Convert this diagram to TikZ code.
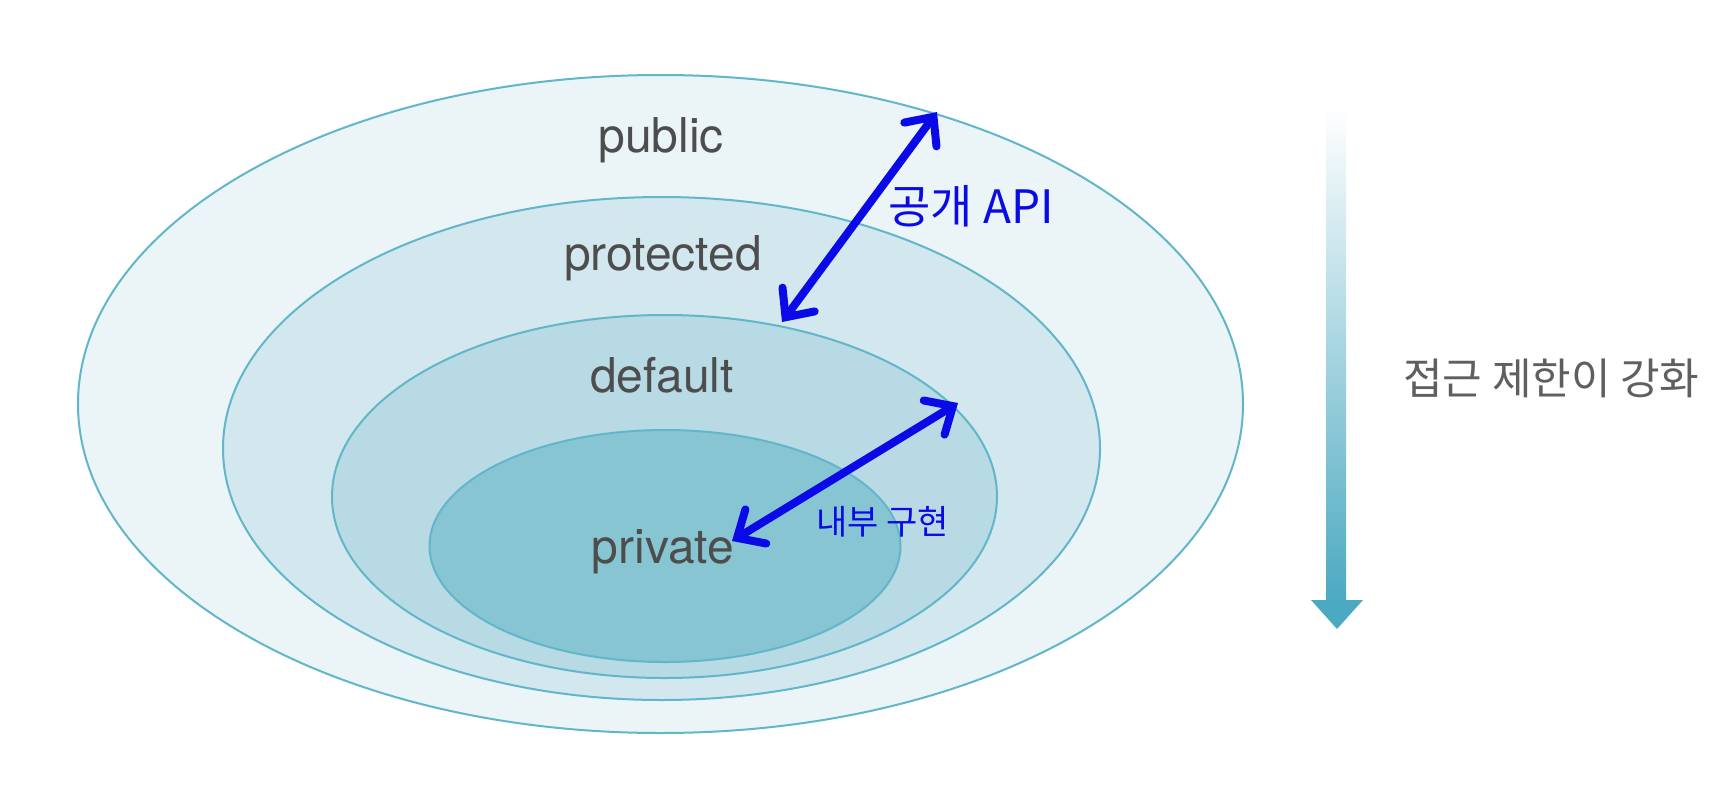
\documentclass[tikz,border=0pt]{standalone}
\usepackage{fontspec}
\setsansfont{TeX Gyre Heros}
\newfontfamily\krfont{Noto Sans CJK KR}
\usetikzlibrary{shapes.geometric,arrows.meta}
\definecolor{ringline}{HTML}{62B6C9}
\definecolor{ringA}{HTML}{EBF4F7}
\definecolor{ringB}{HTML}{D2E8EE}
\definecolor{ringC}{HTML}{B7DAE4}
\definecolor{ringD}{HTML}{88C5D3}
\definecolor{labelgray}{HTML}{4D4D4D}
\definecolor{sidegray}{HTML}{5F5F5F}
\definecolor{arrowteal}{HTML}{4BA9C1}
\definecolor{penblue}{HTML}{0A0AE6}
\tikzset{
  ring/.style={ellipse, draw=ringline, line width=1pt, inner sep=0pt, outer sep=0pt},
  ringlabel/.style={anchor=base, inner sep=0pt, text=labelgray, font=\sffamily\fontsize{24}{28}\selectfont},
  pen/.style={draw=penblue, line width=4pt, line cap=round, line join=round,
    {Straight Barb[length=11pt,width=20pt,line cap=round]}-{Straight Barb[length=11pt,width=20pt,line cap=round]}},
  pentext/.style={anchor=base west, inner sep=0pt, text=penblue},
}
\begin{document}
\begin{tikzpicture}[x=0.5pt,y=-0.5pt]
\useasboundingbox (0,0) rectangle (1730,793);
\fill[white] (0,0) rectangle (1730,793);
% rings
\node[ring, fill=ringA, minimum width=582.5pt, minimum height=329pt] (publicring) at (660.5,404) {};
\node[ring, fill=ringB, minimum width=438.5pt, minimum height=251.5pt] (protring) at (661.5,448.5) {};
\node[ring, fill=ringC, minimum width=332.5pt, minimum height=181.5pt] (defring) at (664.5,496.5) {};
\node[ring, fill=ringD, minimum width=235.5pt, minimum height=116pt] (privring) at (665,546) {};
% labels
\node[ringlabel] (publiclbl) at (661,152) {public};
\node[ringlabel] (protlbl) at (663,270) {protected};
\node[ringlabel] (deflbl) at (662,392) {default};
\node[ringlabel] (privlbl) at (663,563) {private};
% side arrow
\shade[top color=white, bottom color=arrowteal] (1326,108) rectangle (1346,602);
\fill[arrowteal] (1311,600) -- (1363,600) -- (1337,629) -- cycle;
\node[anchor=base west, inner sep=0pt, text=sidegray, font=\krfont\fontsize{21.5}{24}\selectfont] (sidelbl) at (1403,394) {접근 제한이 강화};
% handwritten arrows
\coordinate (apiA) at (782,322);
\coordinate (apiB) at (937,112);
\draw[pen] (apiA) -- (apiB);
\coordinate (implA) at (732,541);
\coordinate (implB) at (958,403);
\draw[pen] (implA) -- (implB);
\node[pentext, font=\krfont\fontsize{23}{26}\selectfont] (apilbl) at (888,223) {공개 API};
\node[pentext, font=\krfont\fontsize{17}{20}\selectfont] (impllbl) at (816,534) {내부 구현};
\end{tikzpicture}
\end{document}
